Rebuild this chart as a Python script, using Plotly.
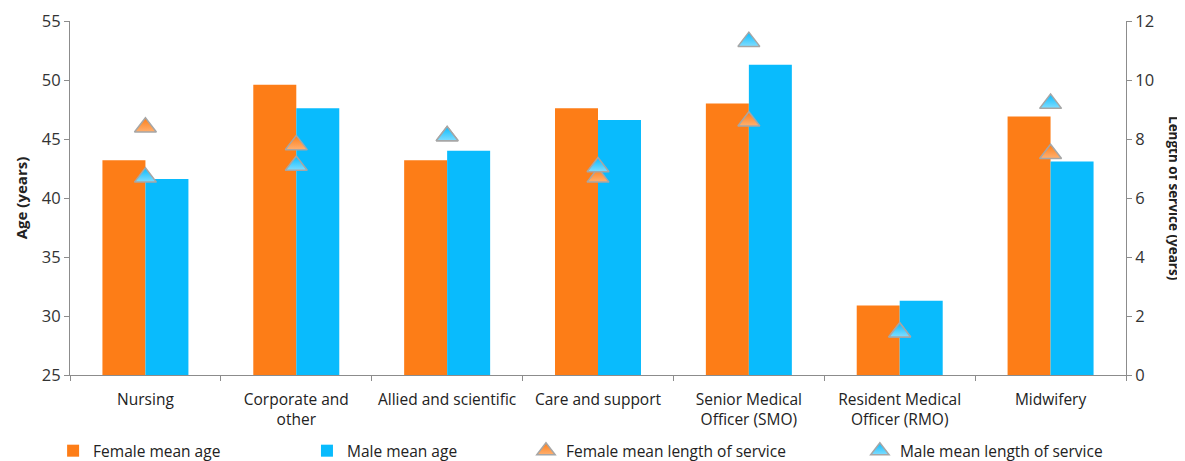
import plotly.graph_objects as go

categories = ["Nursing", "Corporate and<br>other", "Allied and scientific", "Care and support",
              "Senior Medical<br>Officer (SMO)", "Resident Medical<br>Officer (RMO)", "Midwifery"]
female_age = [43.2, 49.6, 43.2, 47.6, 48.0, 30.9, 46.9]
male_age = [41.6, 47.6, 44.0, 46.6, 51.3, 31.3, 43.1]
female_service = [8.4, 7.8, 8.1, 6.7, 8.6, 1.45, 7.5]
male_service = [6.7, 7.1, 8.1, 7.05, 11.3, 1.45, 9.2]

ORANGE = "#FD7D17"
BLUE = "#09BBFD"
AXIS = "#8C8C8C"
FONT = "Open Sans"

fig = go.Figure()
fig.add_trace(go.Bar(x=categories, y=female_age, name="Female mean age",
                     marker=dict(color=ORANGE, line=dict(width=0)), legend="legend"))
fig.add_trace(go.Bar(x=categories, y=male_age, name="Male mean age",
                     marker=dict(color=BLUE, line=dict(width=0)), legend="legend2"))
fig.add_trace(go.Scatter(x=categories, y=female_service, name="Female mean length of service",
                         mode="markers", yaxis="y2", legend="legend3",
                         marker=dict(symbol="triangle-up", size=19, color=ORANGE,
                                     gradient=dict(type="vertical", color="#FFB070"),
                                     line=dict(color="#A6A6A6", width=1.5))))
fig.add_trace(go.Scatter(x=categories, y=male_service, name="Male mean length of service",
                         mode="markers", yaxis="y2", legend="legend4",
                         marker=dict(symbol="triangle-up", size=19, color=BLUE,
                                     gradient=dict(type="vertical", color="#80DDFF"),
                                     line=dict(color="#A6A6A6", width=1.5))))

legend_common = dict(orientation="h", yanchor="middle", xanchor="left", y=-0.215,
                     font=dict(family=FONT, size=15.5, color="#222222"),
                     bgcolor="rgba(0,0,0,0)", itemwidth=30)

fig.update_layout(
    width=1177, height=453,
    margin=dict(l=62, r=59, t=13, b=86, autoexpand=False),
    paper_bgcolor="white", plot_bgcolor="white",
    showlegend=True,
    barmode="group", bargap=0.43, bargroupgap=0,
    font=dict(family=FONT, size=14, color="#222222"),
    xaxis=dict(showline=True, linecolor=AXIS, linewidth=1, ticks="outside",
               tickson="boundaries", tickcolor=AXIS, ticklen=5, ticklabelstandoff=10,
               tickangle=0,
               tickfont=dict(family=FONT, size=15.5, color="#222222")),
    yaxis=dict(range=[25, 55], dtick=5, showline=True, linecolor=AXIS, linewidth=1,
               ticks="outside", tickcolor=AXIS, ticklen=5, showgrid=False, zeroline=False,
               tickfont=dict(family=FONT, size=16.5, color="#333333"),
               title=dict(text="<b>Age (years)</b>", font=dict(family=FONT, size=15), standoff=10)),
    yaxis2=dict(range=[0, 12], dtick=2, overlaying="y", side="right", showline=True,
                linecolor=AXIS, linewidth=1, ticks="outside", tickcolor=AXIS, ticklen=5,
                showgrid=False, zeroline=False,
                tickfont=dict(family=FONT, size=16.5, color="#333333")),
    legend=dict(x=-0.016, **legend_common),
    legend2=dict(x=0.2244, **legend_common),
    legend3=dict(x=0.4318, **legend_common),
    legend4=dict(x=0.748, **legend_common),
    annotations=[dict(text="<b>Length of service (years)</b>", textangle=90,
                      xref="paper", yref="paper", x=1.0, xshift=48, y=0.5,
                      xanchor="center", yanchor="middle", showarrow=False,
                      font=dict(family=FONT, size=13.5, color="#222222"))],
)

fig.write_html("out.html")
